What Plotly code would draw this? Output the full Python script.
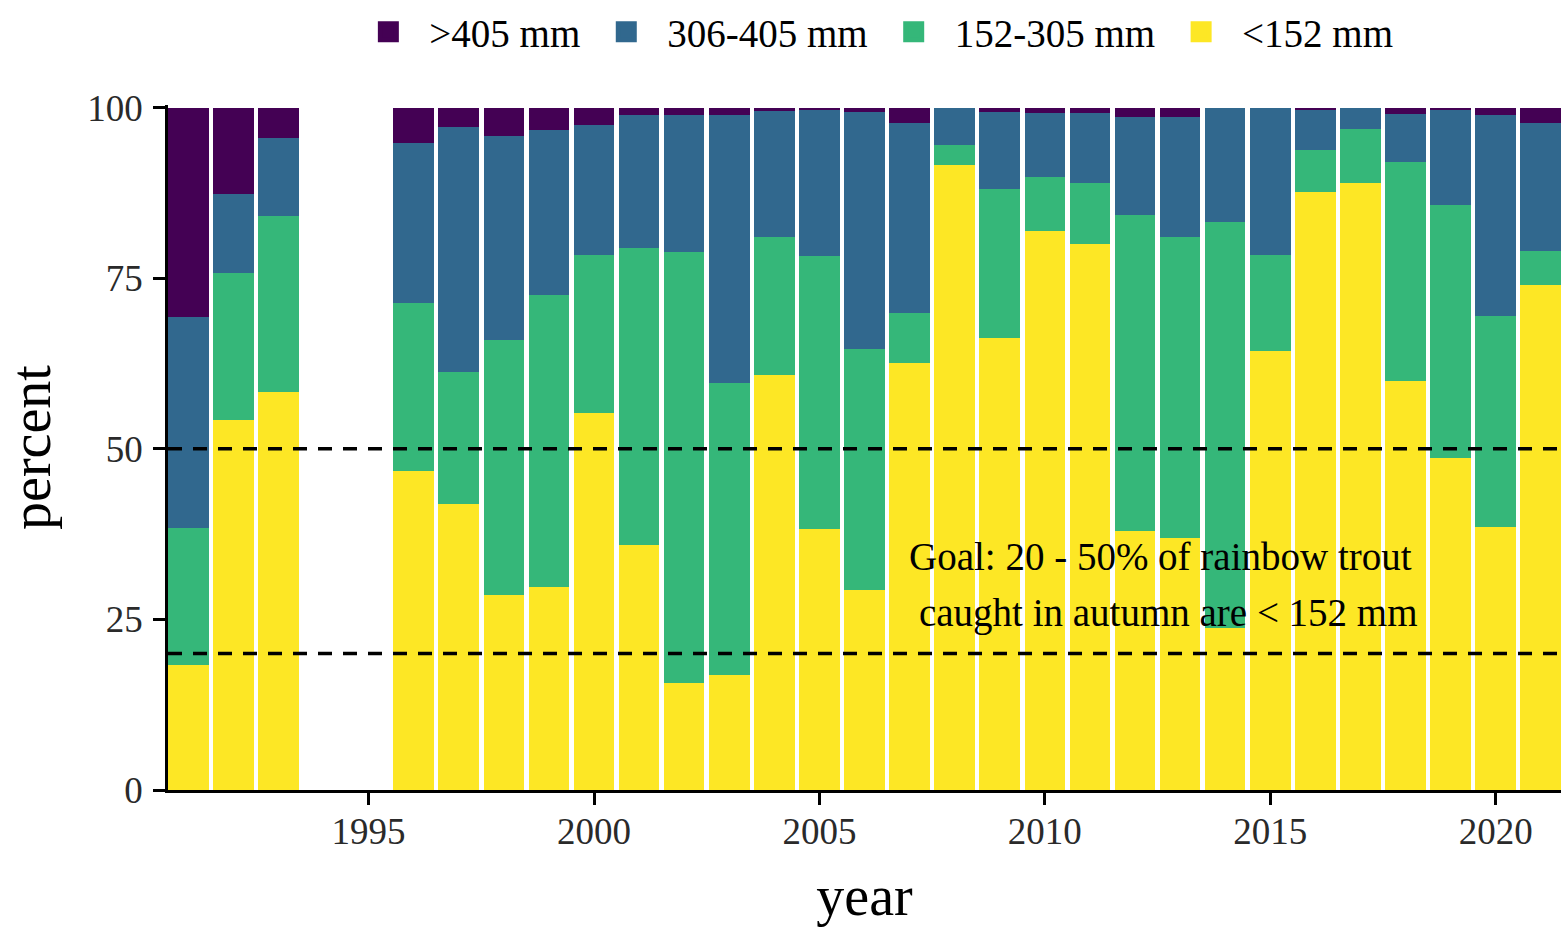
import plotly.graph_objects as go

years = [1991, 1992, 1993, 1996, 1997, 1998, 1999, 2000, 2001, 2002, 2003, 2004, 2005,
         2006, 2007, 2008, 2009, 2010, 2011, 2012, 2013, 2014, 2015, 2016, 2017, 2018,
         2019, 2020, 2021]

lt152 = [18.3, 54.2, 58.4, 46.8, 41.9, 28.6, 29.8, 55.3, 35.9, 15.7, 16.9, 60.9, 38.3,
         29.3, 62.6, 91.6, 66.2, 81.9, 80.0, 37.9, 37.0, 23.7, 64.4, 87.7, 89.0, 59.9,
         48.6, 38.5, 74.0]
r152_305 = [20.1, 21.6, 25.7, 24.6, 19.3, 37.4, 42.8, 23.1, 43.6, 63.2, 42.8, 20.1, 40.0,
            35.4, 7.3, 2.9, 21.9, 8.0, 9.0, 46.4, 44.0, 59.6, 14.0, 6.1, 7.9, 32.2,
            37.2, 31.0, 5.0]
r306_405 = [30.9, 11.5, 11.4, 23.4, 36.0, 29.8, 24.1, 19.1, 19.5, 20.0, 39.3, 18.5, 21.3,
            34.7, 27.9, 5.5, 11.3, 9.4, 10.3, 14.3, 17.6, 16.7, 21.6, 5.8, 3.1, 7.0,
            13.8, 29.4, 18.7]
gt405 = [30.7, 12.7, 4.5, 5.2, 2.8, 4.2, 3.3, 2.5, 1.0, 1.1, 1.0, 0.5, 0.4,
         0.6, 2.2, 0.0, 0.6, 0.7, 0.7, 1.4, 1.4, 0.0, 0.0, 0.4, 0.0, 0.9,
         0.4, 1.1, 2.3]

series_names = ["&gt;405 mm", "306-405 mm", "152-305 mm", "&lt;152 mm"]
series_vals = [gt405, r306_405, r152_305, lt152]
colors = ["#440154", "#31688E", "#35B779", "#FDE725"]

goal_lines = [20, 50]
x_ticks = [1995, 2000, 2005, 2010, 2015, 2020]
y_ticks = [0, 25, 50, 75, 100]

FONT = "Liberation Serif"

fig = go.Figure()
# bars: bottom first
for name, vals, col in reversed(list(zip(series_names, series_vals, colors))):
    fig.add_trace(go.Bar(x=years, y=vals, name=name, marker=dict(color=col, line=dict(width=0)),
                         showlegend=False, legendgroup=name))
# legend entries (larger squares)
for name, col in zip(series_names, colors):
    fig.add_trace(go.Scatter(x=[None], y=[None], mode="markers", name=name, legendgroup=name,
                             marker=dict(symbol="square", size=16, color=col,
                                         line=dict(color=col, width=5))))

for g in goal_lines:
    fig.add_hline(y=g, line=dict(color="black", width=3.5, dash="14px,11px"), layer="above")

fig.add_annotation(x=2012.57, y=34.2, text="Goal: 20 - 50% of rainbow trout", showarrow=False,
                   font=dict(family=FONT, size=39, color="black"), xanchor="center", yanchor="middle")
fig.add_annotation(x=2012.75, y=25.95, text="caught in autumn are &lt; 152 mm", showarrow=False,
                   font=dict(family=FONT, size=39, color="black"), xanchor="center", yanchor="middle")

fig.update_layout(
    width=1561, height=927,
    margin=dict(l=168, r=0, t=104, b=137),
    barmode="stack", bargap=0.1,
    plot_bgcolor="white", paper_bgcolor="white",
    font=dict(family=FONT, color="black"),
    legend=dict(orientation="h", x=0.506, xanchor="center", y=1.107, yanchor="middle",
                font=dict(family=FONT, size=39, color="black"), itemwidth=72,
                traceorder="normal"),
    xaxis=dict(range=[1990.55, 2021.45], tickmode="array", tickvals=x_ticks,
               ticks="outside", ticklen=12, tickwidth=2.5, tickcolor="black",
               showline=True, linecolor="black", linewidth=2.5, showgrid=False, zeroline=False,
               ticklabelstandoff=-5,
               tickfont=dict(family=FONT, size=37, color="#2a2a2a"),
               title=dict(text="year", font=dict(family=FONT, size=56, color="black"), standoff=27)),
    yaxis=dict(range=[0, 100.4], tickmode="array", tickvals=y_ticks,
               ticks="outside", ticklen=12, tickwidth=2.5, tickcolor="black",
               showline=True, linecolor="black", linewidth=2.5, showgrid=False, zeroline=False,
               ticklabelstandoff=3,
               tickfont=dict(family=FONT, size=37, color="#2a2a2a"),
               title=dict(text="percent", font=dict(family=FONT, size=56, color="black"), standoff=26)),
)

fig.write_html("out.html")
